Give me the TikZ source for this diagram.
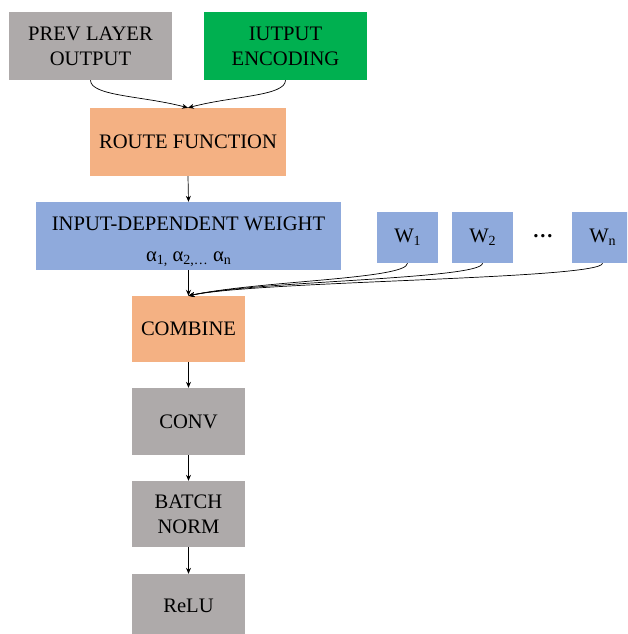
\documentclass[tikz,border=0pt]{standalone}
\usepackage{fontspec}
\setmainfont{Liberation Serif}
\usetikzlibrary{arrows.meta}
\definecolor{boxgray}{HTML}{AEAAAA}
\definecolor{boxgreen}{HTML}{00B050}
\definecolor{boxorange}{HTML}{F4B183}
\definecolor{boxblue}{HTML}{8FAADC}
\newcommand{\mysub}[1]{\raisebox{-3.5pt}{\fontsize{14}{14}\selectfont #1}}
\tikzset{
  box/.style={draw=none, inner sep=0pt, align=center, text=black,
    font=\fontsize{20.6}{25}\selectfont},
  arr/.style={draw=black, line width=0.7pt, -{Stealth[length=6pt,width=5pt]}},
}
\begin{document}
\begin{tikzpicture}[x=1pt,y=-1pt]
\useasboundingbox (0,0) rectangle (627,634);
\clip (0,0) rectangle (627,634);
% top row
\node[box, fill=boxgray, minimum width=163pt, minimum height=68pt] (prev) at (90.5,46) {PREV LAYER\\OUTPUT};
\node[box, fill=boxgreen, minimum width=163pt, minimum height=68pt] (enc) at (285.5,46) {IUTPUT\\ENCODING};
\node[box, fill=boxorange, minimum width=196pt, minimum height=68pt] (route) at (188,142) {ROUTE FUNCTION};
\node[box, fill=boxblue, minimum width=305pt, minimum height=68pt] (weight) at (188.5,236) {};
\node[box] (weighttext) at (188.5,242) {INPUT-DEPENDENT WEIGHT\\[6pt]α\mysub{1,} α\mysub{2,…} α\mysub{n}};
\node[box, fill=boxblue, minimum width=61pt, minimum height=51pt] (w1) at (407.5,237.5) {W\mysub{1}};
\node[box, fill=boxblue, minimum width=61pt, minimum height=51pt] (w2) at (482.5,237.5) {W\mysub{2}};
\node[box] (dots) at (543,236) {\textbf{…}};
\node[box, fill=boxblue, minimum width=61pt, minimum height=51pt] (wn) at (602.5,237.5) {W\mysub{n}};
\node[box, fill=boxorange, minimum width=113pt, minimum height=66pt] (comb) at (188.5,329) {COMBINE};
\node[box, fill=boxgray, minimum width=113pt, minimum height=67pt] (conv) at (188.5,421.5) {CONV};
\node[box, fill=boxgray, minimum width=113pt, minimum height=66pt] (bn) at (188.5,514) {BATCH\\NORM};
\node[box, fill=boxgray, minimum width=113pt, minimum height=64pt] (relu) at (188.5,606) {ReLU};
% connectors
\draw[arr] (prev.south) .. controls +(0,16) and +(-45,-12) .. (route.north);
\draw[arr] (enc.south) .. controls +(0,16) and +(45,-12) .. (route.north);
\draw[arr] (route.south) -- (weight.north);
\draw[arr] (weight.south) -- (comb.north);
\draw[arr] (w1.south) .. controls +(0,16) and +(70,-15) .. (comb.north);
\draw[arr] (w2.south) .. controls +(0,16) and +(70,-15) .. (comb.north);
\draw[arr] (wn.south) .. controls +(0,16) and +(70,-15) .. (comb.north);
\draw[arr] (comb.south) -- (conv.north);
\draw[arr] (conv.south) -- (bn.north);
\draw[arr] (bn.south) -- (relu.north);
\end{tikzpicture}
\end{document}
